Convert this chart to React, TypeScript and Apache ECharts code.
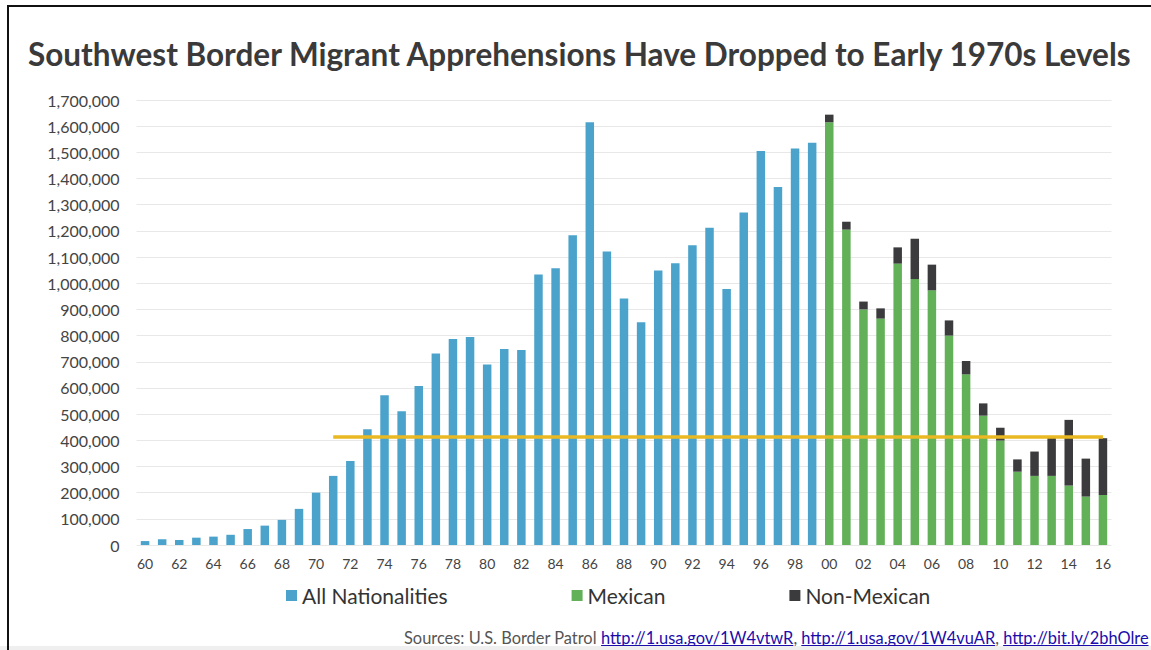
import React, { useEffect, useRef } from "react";
import * as echarts from "echarts";

const years: string[] = [
  "60","61","62","63","64","65","66","67","68","69",
  "70","71","72","73","74","75","76","77","78","79",
  "80","81","82","83","84","85","86","87","88","89",
  "90","91","92","93","94","95","96","97","98","99",
  "00","01","02","03","04","05","06","07","08","09",
  "10","11","12","13","14","15","16",
];

// 1960-1999
const allNationalities: number[] = [
  15000, 22000, 19000, 28000, 32000, 39000, 61000, 74000, 96000, 138000,
  200000, 264000, 321000, 442000, 572000, 511000, 607000, 732000, 787000, 795000,
  690000, 749000, 745000, 1033000, 1057000, 1183000, 1615000, 1121000, 942000, 851000,
  1049000, 1076000, 1145000, 1212000, 978000, 1270000, 1505000, 1368000, 1515000, 1537000,
];

// 2000-2016
const mexican: number[] = [
  1615000, 1205000, 900000, 865000, 1075000, 1016000, 973000, 800000, 652000, 494000,
  399000, 280000, 264000, 264000, 227000, 185000, 191000,
];
const nonMexican: number[] = [
  29000, 30000, 30000, 39000, 62000, 154000, 98000, 58000, 51000, 47000,
  49000, 47000, 93000, 149000, 251000, 145000, 217000,
];

const early1970sLevel = 414000;
const levelStartYear = "71";
const levelEndYear = "16";

const yTicks = { min: 0, max: 1700000, interval: 100000 };

const titleText = "Southwest Border Migrant Apprehensions Have Dropped to Early 1970s Levels";
const sourcePrefix = "Sources: U.S. Border Patrol ";
const sourceLinks: string[] = [
  "http://1.usa.gov/1W4vtwR",
  "http://1.usa.gov/1W4vuAR",
  "http://bit.ly/2bhOlre",
];

const BLUE = "#4ba3cc";
const GREEN = "#62b058";
const DARK = "#3b3b3d";
const GOLD = "#e9b822";
const FONT = "Lato, 'Noto Sans', sans-serif";

export default function App() {
  const ref = useRef<HTMLDivElement>(null);

  useEffect(() => {
    document.body.style.margin = "0";
    if (!ref.current) return;
    const chart = echarts.init(ref.current, undefined, { renderer: "svg" });

    const nBlue = allNationalities.length;
    const blueData = years.map((_, i) => (i < nBlue ? allNationalities[i] : "-"));
    const mexData = years.map((_, i) => (i >= nBlue ? mexican[i - nBlue] : "-"));
    const nonMexData = years.map((_, i) => (i >= nBlue ? nonMexican[i - nBlue] : "-"));

    // measure source text to underline links
    const srcFontSize = 16.4;
    const cv = document.createElement("canvas").getContext("2d")!;
    cv.font = `${srcFontSize}px Lato`;
    const srcX = 404;
    const srcY = 637;
    let cursor = srcX + cv.measureText(sourcePrefix).width;
    const underlines: any[] = [];
    let rich = `{a|${sourcePrefix}}`;
    sourceLinks.forEach((l, i) => {
      const w = cv.measureText(l).width;
      underlines.push({
        type: "line",
        silent: true,
        shape: { x1: cursor, y1: srcY + 8.5, x2: cursor + w, y2: srcY + 8.5 },
        style: { stroke: "#1a0dab", lineWidth: 1 },
      });
      cursor += w;
      rich += `{b|${l}}`;
      if (i < sourceLinks.length - 1) {
        rich += `{a|, }`;
        cursor += cv.measureText(", ").width;
      }
    });

    chart.setOption({
      animation: false,
      backgroundColor: "#ffffff",
      title: {
        text: titleText,
        left: 28,
        top: 38,
        padding: 0,
        textStyle: { fontFamily: FONT, fontWeight: "bold", fontSize: 31.5, color: "#3a3a3a" },
      },
      legend: {
        left: 286,
        top: 585,
        padding: 0,
        itemGap: 124,
        itemWidth: 11,
        itemHeight: 11,
        icon: "rect",
        textStyle: { fontFamily: FONT, fontSize: 21, color: "#333" },
        data: ["All Nationalities", "Mexican", "Non-Mexican"],
      },
      grid: { left: 136.5, top: 100, width: 975, height: 445, containLabel: false },
      xAxis: {
        type: "category",
        data: years,
        axisLine: { show: false },
        axisTick: { show: false },
        axisLabel: { interval: 1, margin: 11, fontFamily: FONT, fontSize: 14, color: "#444" },
      },
      yAxis: {
        type: "value",
        min: yTicks.min,
        max: yTicks.max,
        interval: yTicks.interval,
        axisLine: { show: false },
        axisTick: { show: false },
        axisLabel: {
          margin: 17,
          fontFamily: FONT,
          fontSize: 16,
          color: "#444",
          formatter: (v: number) => v.toLocaleString("en-US"),
        },
        splitLine: { lineStyle: { color: "#e8e8e8", width: 1 } },
      },
      series: [
        {
          name: "All Nationalities",
          type: "bar",
          stack: "total",
          barWidth: 8.5,
          itemStyle: { color: BLUE },
          data: blueData,
        },
        {
          name: "Mexican",
          type: "bar",
          stack: "total",
          barWidth: 8.5,
          itemStyle: { color: GREEN },
          data: mexData,
          markLine: {
            silent: true,
            symbol: "none",
            label: { show: false },
            lineStyle: { color: GOLD, width: 3.5, type: "solid" },
            data: [
              [
                { coord: [levelStartYear, early1970sLevel] },
                { coord: [levelEndYear, early1970sLevel] },
              ],
            ],
          },
          z: 2,
        },
        {
          name: "Non-Mexican",
          type: "bar",
          stack: "total",
          barWidth: 8.5,
          itemStyle: { color: DARK },
          data: nonMexData,
        },
      ],
      graphic: [
        {
          type: "text",
          silent: true,
          x: srcX,
          y: srcY,
          style: {
            text: rich,
            verticalAlign: "middle",
            rich: {
              a: { fontFamily: FONT, fontSize: srcFontSize, fill: "#555" },
              b: { fontFamily: FONT, fontSize: srcFontSize, fill: "#1a0dab" },
            },
          },
        },
        ...underlines,
        {
          type: "rect",
          silent: true,
          shape: { x: 0, y: 646, width: 1151, height: 4 },
          style: { fill: "#efefef" },
        },
        {
          type: "line",
          silent: true,
          shape: { x1: 7, y1: 6, x2: 1151, y2: 6 },
          style: { stroke: "#111", lineWidth: 2 },
        },
        {
          type: "line",
          silent: true,
          shape: { x1: 8, y1: 5, x2: 8, y2: 650 },
          style: { stroke: "#111", lineWidth: 2 },
        },
      ],
    });

    return () => chart.dispose();
  }, []);

  return <div ref={ref} style={{ width: 1151, height: 650 }} />;
}
